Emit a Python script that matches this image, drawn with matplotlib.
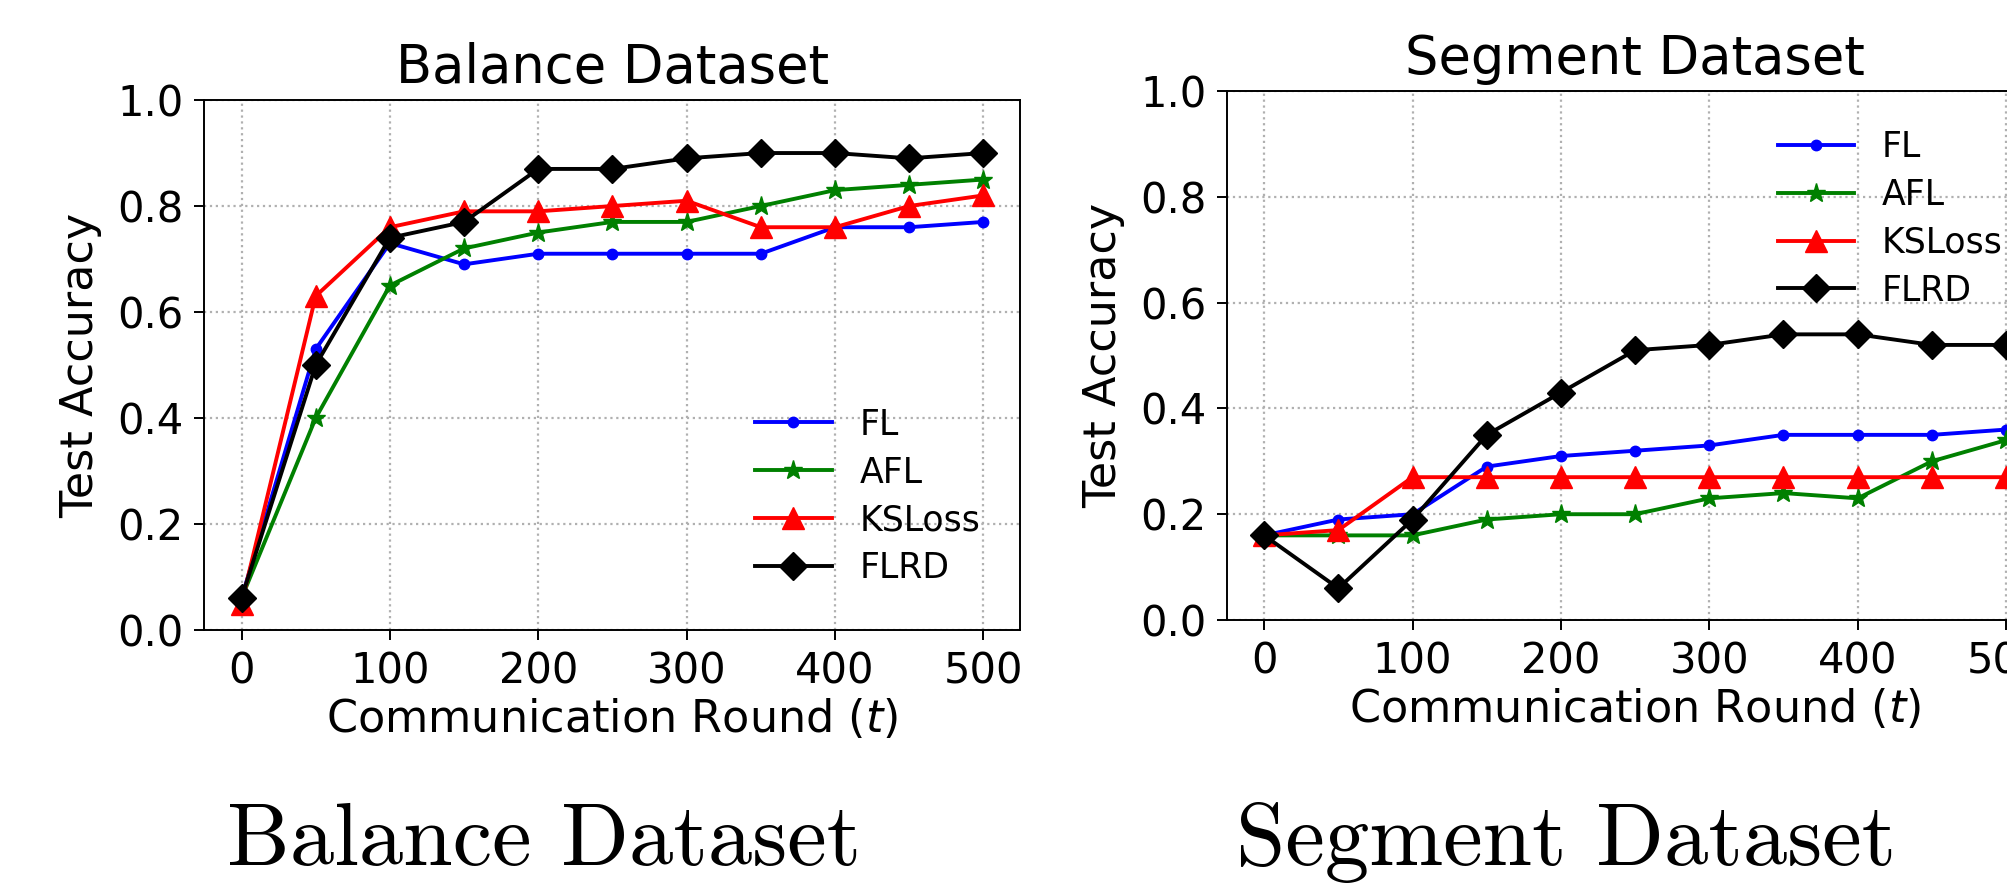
import numpy as np
import matplotlib
matplotlib.use("Agg")
import matplotlib.pyplot as plt

rounds = [0, 50, 100, 150, 200, 250, 300, 350, 400, 450, 500]
methods = ["FL", "AFL", "KSLoss", "FLRD"]

balance_fl = [0.06, 0.53, 0.73, 0.69, 0.71, 0.71, 0.71, 0.71, 0.76, 0.76, 0.77]
balance_afl = [0.06, 0.40, 0.65, 0.72, 0.75, 0.77, 0.77, 0.80, 0.83, 0.84, 0.85]
balance_ksloss = [0.05, 0.63, 0.76, 0.79, 0.79, 0.80, 0.81, 0.76, 0.76, 0.80, 0.82]
balance_flrd = [0.06, 0.50, 0.74, 0.77, 0.87, 0.87, 0.89, 0.90, 0.90, 0.89, 0.90]

segment_fl = [0.16, 0.19, 0.20, 0.29, 0.31, 0.32, 0.33, 0.35, 0.35, 0.35, 0.36]
segment_afl = [0.16, 0.16, 0.16, 0.19, 0.20, 0.20, 0.23, 0.24, 0.23, 0.30, 0.34]
segment_ksloss = [0.16, 0.17, 0.27, 0.27, 0.27, 0.27, 0.27, 0.27, 0.27, 0.27, 0.27]
segment_flrd = [0.16, 0.06, 0.19, 0.35, 0.43, 0.51, 0.52, 0.54, 0.54, 0.52, 0.52]

# colour, marker, marker size
styles = [("b", "o", 7.5), ("g", "*", 14), ("r", "^", 15.5), ("k", "D", 14.5)]


def draw_panel(ax, series, title, legend_anchor):
    for vals, name, (c, m, ms) in zip(series, methods, styles):
        ax.plot(rounds, vals, color=c, marker=m, markersize=ms, linewidth=2.8, label=name)
    ax.set_ylim(0, 1.0)
    ax.set_xticks([0, 100, 200, 300, 400, 500])
    ax.set_yticks([0.0, 0.2, 0.4, 0.6, 0.8, 1.0])
    ax.grid(True, linestyle=":", color="#b0b0b0", linewidth=1.6)
    ax.tick_params(labelsize=30, length=7, width=1.4, pad=8)
    for s in ax.spines.values():
        s.set_linewidth(1.4)
    ax.set_title(title, fontsize=38, pad=12)
    ax.set_xlabel("Communication Round ($t$)", fontsize=32, labelpad=3)
    ax.set_ylabel("Test Accuracy", fontsize=32)
    ax.yaxis.set_label_coords(-0.125, 0.5)
    ax.legend(loc="center left", bbox_to_anchor=legend_anchor, frameon=False,
              fontsize=25, borderpad=0, borderaxespad=0, handlelength=2.2,
              handletextpad=0.8, labelspacing=0.4)


fig = plt.figure(figsize=(20.08, 8.86), dpi=100)
ax1 = fig.add_axes([0.1018, 0.2889, 0.4064, 0.5982])
ax2 = fig.add_axes([0.6111, 0.3002, 0.4064, 0.5971])

draw_panel(ax1, [balance_fl, balance_afl, balance_ksloss, balance_flrd], "Balance Dataset", (0.675, 0.252))
draw_panel(ax2, [segment_fl, segment_afl, segment_ksloss, segment_flrd], "Segment Dataset", (0.675, 0.7585))

fig.text(0.2709, 0.024, "Balance Dataset", family="cmr10", fontsize=64, ha="center", va="baseline")
fig.text(0.7799, 0.024, "Segment Dataset", family="cmr10", fontsize=64, ha="center", va="baseline")

fig.savefig("out.png", dpi=100)
